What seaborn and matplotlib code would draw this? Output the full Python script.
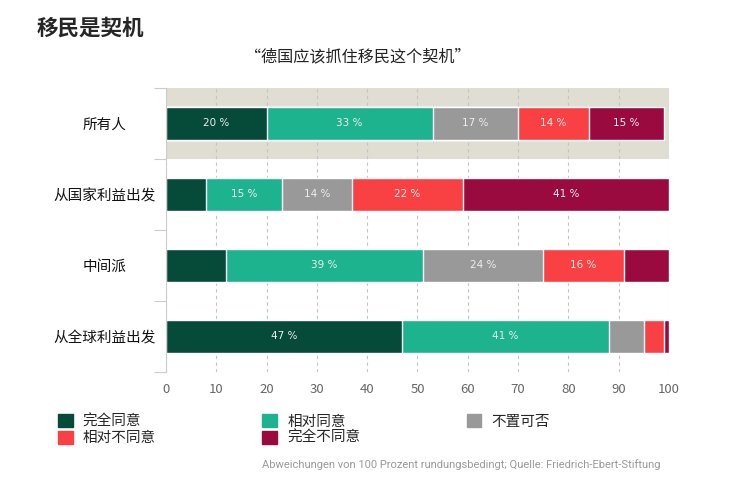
import numpy as np
import pandas as pd
import matplotlib
matplotlib.use('Agg')
import matplotlib.pyplot as plt
import seaborn as sns

sns.set_style('white')
plt.rcParams['font.family'] = ['Noto Sans CJK SC', 'DejaVu Sans']

groups = ['所有人', '从国家利益出发', '中间派', '从全球利益出发']
answers = ['完全同意', '相对同意', '不置可否', '相对不同意', '完全不同意']
colors = ['#064a3a', '#1db38f', '#999999', '#f94144', '#9b0a3f']

fully_agree = [20, 8, 12, 47]
rather_agree = [33, 15, 39, 41]
neutral = [17, 14, 24, 7]
rather_disagree = [14, 22, 16, 4]
fully_disagree = [15, 41, 9, 1]

data = pd.DataFrame(
    {
        'group': groups,
        '完全同意': fully_agree,
        '相对同意': rather_agree,
        '不置可否': neutral,
        '相对不同意': rather_disagree,
        '完全不同意': fully_disagree,
    }
)
cum = data[answers].cumsum(axis=1)

fig = plt.figure(figsize=(7.47, 4.79), dpi=100)
ax = fig.add_axes([0.2222, 0.2234, 0.6734, 0.5929])

# stacked bars: draw cumulative totals from the longest down
for ans, col in reversed(list(zip(answers, colors))):
    sns.barplot(x=cum[ans], y=data['group'], color=col, width=0.465, orient='h',
                edgecolor='white', linewidth=1, saturation=1, ax=ax, zorder=2)

# value labels for the wider segments
for i, g in enumerate(groups):
    for ans in answers:
        v = data.loc[i, ans]
        if v >= 13:
            ax.text(cum.loc[i, ans] - v / 2, i, f'{v} %', ha='center', va='center',
                    color='#eeeeee', fontsize=7.5, family='DejaVu Sans', zorder=3)

ax.axhspan(-0.5, 0.5, color='#e0ddd3', zorder=0, lw=0)
ax.set_xlim(0, 100)
ax.set_ylim(3.5, -0.5)
ax.set_xticks(range(0, 101, 10))
ax.set_axisbelow(True)
ax.xaxis.grid(True, ls=(0, (3, 3)), color='#c4c4c4', lw=0.8)
ax.yaxis.grid(False)
ax.tick_params(axis='x', length=0, labelsize=9.5, labelcolor='#666666', pad=8)
ax.set_yticks(range(4))
ax.set_yticklabels(groups, fontsize=10.5, color='#111111', ha='center')
ax.tick_params(axis='y', which='major', length=0, pad=44)
ax.set_yticks([-0.5, 0.5, 1.5, 2.5, 3.5], minor=True)
ax.tick_params(axis='y', which='minor', left=True, length=9, color='#cccccc', width=0.8)
ax.set_xlabel('')
ax.set_ylabel('')
for s in ['top', 'right', 'bottom']:
    ax.spines[s].set_visible(False)
ax.spines['left'].set_color('#cccccc')
ax.spines['left'].set_linewidth(0.8)

fig.text(0.0495, 0.9415, '移民是契机', fontsize=15.5, fontweight='bold', va='center', ha='left')
fig.text(0.479, 0.881, '“德国应该抓住移民这个契机”', fontsize=11.6, va='center', ha='center', color='#222222')

handles = [plt.Rectangle((0, 0), 1, 1, color=c) for c in colors]
order = [0, 3, 1, 4, 2]
leg = fig.legend([handles[k] for k in order], [answers[k] for k in order], ncol=3,
                 loc='upper left', bbox_to_anchor=(58 / 747, 1 - 414 / 479), frameon=False,
                 fontsize=10.5, handlelength=1, handleheight=1, handletextpad=0.7,
                 columnspacing=7.3, labelspacing=0.15, borderaxespad=0, borderpad=0)

fig.text(262 / 747, 1 - 465 / 479,
         'Abweichungen von 100 Prozent rundungsbedingt; Quelle: Friedrich-Ebert-Stiftung',
         fontsize=8, color='#999999', family='Roboto', va='center', ha='left')

fig.savefig('out.png', dpi=100)
